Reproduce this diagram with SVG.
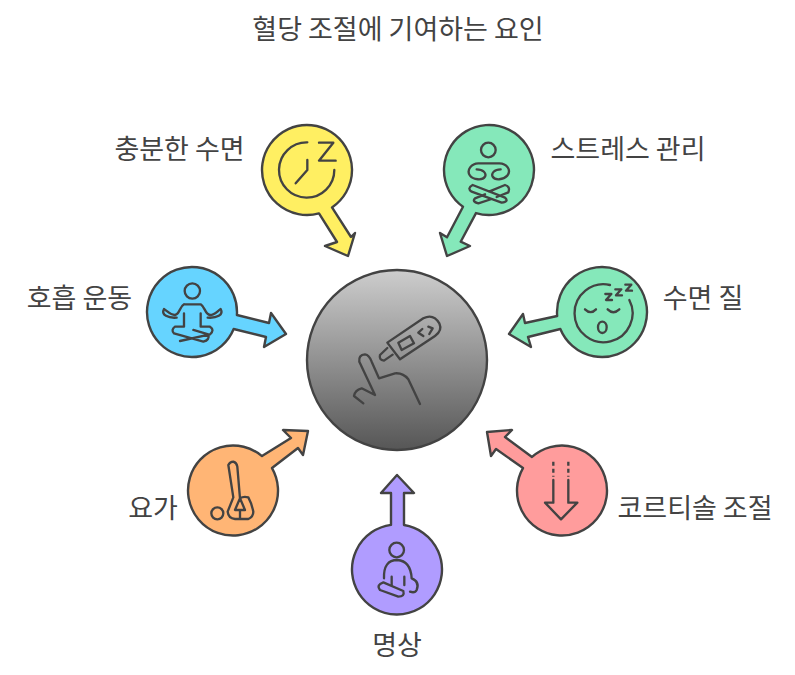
<svg xmlns="http://www.w3.org/2000/svg" width="795" height="675" viewBox="0 0 795 675">
<style>
text{font-family:"Noto Sans CJK KR","Noto Sans",sans-serif;font-size:27px;fill:#434343;text-anchor:middle}
.n{stroke:#434343;stroke-width:2.4;stroke-linejoin:round}
.i{fill:none;stroke:#434343;stroke-width:7;stroke-linecap:round;stroke-linejoin:round}
</style>
<defs><linearGradient id="g" x1="0" y1="0" x2="0" y2="1"><stop offset="0" stop-color="#cdcdcd"/><stop offset="1" stop-color="#565656"/></linearGradient></defs>
<rect width="795" height="675" fill="#fff"/>
<text id="title" x="398" y="39">혈당 조절에 기여하는 요인</text>
<g id="center"><circle class="n" cx="397" cy="360" r="90" fill="url(#g)"/>
<g class="i" transform="translate(300,260) scale(.3333)"><path d="M262,248L370,175Q400,160 418,190Q428,212 405,228L300,298Z"/><path d="M262,264L240,285Q236,300 252,302L278,284"/><path d="M295,248L330,228L342,250L305,270Z"/><path d="M367,207L355,218L370,228M385,200L398,205L388,222"/><path d="M225,405L178,305Q175,285 195,283Q208,285 215,305L237,355L285,340Q310,338 325,358L360,432M225,405L185,385Q165,390 162,408L190,430"/></g></g>
<g id="sleep"><path class="n" fill="#ffef62" d="M319,213.37L337,242L325,246L348,256L355,233L351,237L332,207.42A45,45 0 1 0 319,213.37Z"/>
<g class="i" transform="translate(250,110) scale(.3333)"><path d="M172,97A83,83 0 1 0 253,180M172,150V180L137,220M207,98H250L207,152H257"/></g><text x="179.5" y="159">충분한 수면</text></g>
<g id="stress"><path class="n" fill="#85e8ba" d="M476,213.08L460.7,241.7L470,246L447,256L440,233L447,237.3L463,206.73A45,45 0 1 1 476,213.08Z"/>
<g class="i" transform="translate(460,135) scale(.3333)"><circle cx="85" cy="45" r="22"/><path d="M50,103C70,103 80,115 75,125C68,137 40,135 30,122C18,105 35,85 55,85H118C140,85 155,105 142,122C130,135 105,137 98,125C93,115 103,103 122,103"/><path d="M38,150L135,188Q148,200 125,203L35,170Q20,160 38,150ZM87,170L135,150Q152,155 145,172L110,186M75,178L45,190Q35,200 55,205L95,192"/></g><text x="628" y="159">스트레스 관리</text></g>
<g id="breath"><path class="n" fill="#66d4ff" d="M236.9,315L269,323L271,313L286,334L264,347L266,337L233.67,329A45,45 0 1 1 236.9,315Z"/>
<g class="i" transform="translate(160,275) scale(.3333)"><circle cx="97" cy="48" r="23"/><path d="M72,88H122C135,95 135,118 150,120C165,120 172,108 182,102C192,120 170,130 143,128M72,88C58,95 60,118 45,120C30,120 22,108 12,102C2,120 25,130 50,128"/><path d="M72,115V155H45Q32,165 42,175L130,200Q150,195 145,178L100,165M122,115V155H150Q165,165 150,178L60,198"/></g><text x="79.5" y="308">호흡 운동</text></g>
<g id="quality"><path class="n" fill="#85e8ba" d="M557.18,316L525,323L523,314L509,334L531,347L528,337L560.33,329A45,45 0 1 0 557.18,316Z"/>
<g class="i" transform="translate(500,260) scale(.3333)"><path d="M330,75A87,87 0 1 0 388,120M255,148Q272,165 288,148M323,148Q340,165 358,148"/><ellipse cx="307" cy="202" rx="13" ry="17"/><path d="M316,102H334L318,120H336M346,88H364L348,106H366M376,74H394L378,92H396"/></g><text x="703" y="308">수면 질</text></g>
<g id="yoga"><path class="n" fill="#ffb575" d="M262,456.1L291,438L283,430L308,431L303,455L298,448L272,468.05A45,45 0 1 1 262,456.1Z"/>
<g class="i" transform="translate(180,420) scale(.3333)"><circle cx="112" cy="280" r="18"/><path d="M160,232L145,135Q150,125 160,125Q170,128 172,140L180,235M160,232L143,275Q145,295 165,297H205Q220,290 220,275Q215,250 205,232Q190,228 180,235L165,270H195L180,235M180,270V297"/></g><text x="153" y="518">요가</text></g>
<g id="cortisol"><path class="n" fill="#ff9c9c" d="M532,456.96L505,437L512,430L487,432L491,456L496,449L523,468.05A45,45 0 1 0 532,456.96Z"/>
<g class="i" transform="translate(480,420) scale(.3333)"><path d="M220,125V170M265,125V170" stroke-dasharray="12 9" stroke-linecap="butt"/><path d="M220,180V248H195L243,298L292,248H265V180"/></g><text x="695" y="518">코르티솔 조절</text></g>
<g id="meditate"><path class="n" fill="#b09cff" d="M391,524.9V493H381L397,475L414,493H404V525.05A45,45 0 1 1 391,524.9Z"/>
<g class="i" transform="translate(370,535) scale(.3333)"><circle cx="80" cy="45" r="22"/><path d="M42,130Q40,75 82,75Q122,78 125,130Q150,140 140,165Q135,175 120,170M65,125V150M103,125V150"/><path d="M40,142L100,168Q105,185 85,185L30,165Q18,150 40,142Z"/></g><text x="397" y="655">명상</text></g>
</svg>
